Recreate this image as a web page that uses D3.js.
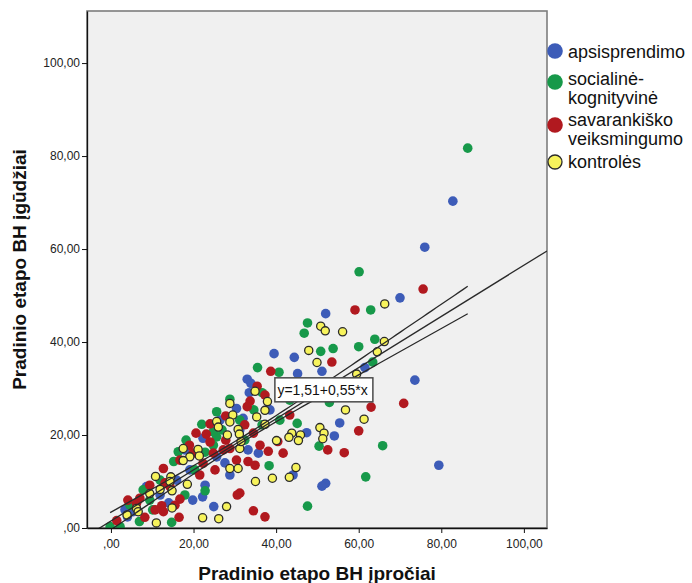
<!DOCTYPE html>
<html>
<head>
<meta charset="utf-8">
<script src="https://cdn.jsdelivr.net/npm/d3@7"></script>
<style>
  html, body { margin: 0; padding: 0; background: #fff; }
  svg { display: block; font-family: "Liberation Sans", Arial, sans-serif; }
</style>
</head>
<body>
<svg id="chart" width="692" height="583"></svg>
<script>
// Groups (legend order) and their wrapped legend labels
const groups = ["apsisprendimo", "socialinė-kognityvinė", "savarankiško veiksmingumo", "kontrolės"];
const legendLines = [["apsisprendimo"], ["socialinė-", "kognityvinė"], ["savarankiško", "veiksmingumo"], ["kontrolės"]];

// [įpročiai, įgūdžiai] per respondent
const apsisprendimo = [
  [82.8,70.3],[76.0,60.4],[70.0,49.5],[73.6,31.8],[79.4,13.5],[52.0,46.1],[39.5,37.5],[44.4,36.7],
  [45.2,33.2],[51.1,33.7],[61.5,34.5],[33.0,32.0],[33.9,31.1],[33.5,29.1],[32.0,23.6],[30.4,25.7],
  [55.4,22.6],[54.1,19.8],[47.4,20.5],[44.1,11.4],[52.0,9.6],[51.1,9.0],[22.3,19.3],[35.7,16.1],
  [8.6,8.9],[14.0,5.4],[19.8,6.0],[22.2,6.7],[24.9,4.6],[4.0,2.4],[5.4,3.5],[27.6,14.0],[33.2,16.8],
  [15.9,10.3],[19.1,12.5],[25.6,15.3],[26.4,23.2],[22.8,9.2],[11.9,7.1],[31.2,21.1],[38.5,25.4],
  [17.9,16.8],[28.8,11.4],[3.4,3.9],[40.9,29.7]
];
const socialine = [
  [86.4,81.7],[60.1,55.1],[62.9,46.9],[47.6,44.1],[46.8,41.9],[53.8,38.6],[50.8,38.0],[60.0,39.0],
  [63.9,40.6],[63.4,35.7],[35.5,34.5],[40.7,33.5],[36.6,29.1],[52.9,27.0],[34.6,25.4],[45.1,22.5],
  [50.4,17.6],[65.8,17.7],[38.3,13.4],[61.7,11.0],[47.6,4.7],[28.8,27.7],[25.6,25.0],[22.0,22.3],
  [25.6,19.6],[24.8,17.8],[16.3,16.4],[15.2,14.3],[7.8,8.2],[22.8,8.0],[14.7,1.2],[10.1,3.9],
  [6.9,1.4],[-0.2,0.3],[2.2,0.3],[24.8,20.7],[18.2,18.9],[22.8,16.3],[26.9,21.1],[31.2,23.2],
  [36.6,22.2],[20.3,12.5],[11.9,10.3],[4.6,4.9],[9.4,6.0],[32.4,18.9],[40.9,23.2],[43.3,27.5],[17.9,7.1]
];
const savarankisko = [
  [75.6,51.4],[70.9,26.8],[59.1,46.9],[53.5,35.7],[38.7,33.7],[35.4,30.5],[33.7,27.3],[33.0,26.1],
  [63.0,26.0],[60.0,20.9],[40.4,18.6],[52.5,16.8],[56.5,16.2],[38.1,16.5],[41.7,16.1],[33.2,14.3],
  [34.9,13.5],[31.2,7.5],[34.5,3.7],[37.3,2.4],[27.8,24.1],[24.0,22.4],[20.6,20.4],[23.1,20.2],
  [34.5,20.4],[28.8,17.1],[27.2,16.8],[24.8,16.1],[19.0,17.8],[19.9,16.1],[12.7,12.8],[30.4,14.6],
  [30.6,7.1],[16.7,6.2],[12.3,4.8],[12.7,3.5],[10.7,3.9],[8.2,2.3],[16.5,2.3],[6.2,5.3],[7.0,6.4],
  [1.4,1.6],[13.1,9.7],[14.3,8.9],[22.3,13.9],[24.0,18.5],[27.8,18.9],[16.7,14.6],[21.5,11.4],
  [9.4,9.2],[4.1,6.0],[32.4,22.2],[37.3,28.6],[43.3,24.3],[25.2,12.5],[15.5,4.9],[36.1,17.8]
];
const kontroles = [
  [66.3,48.2],[66.2,40.1],[64.5,37.9],[50.8,43.4],[51.9,42.4],[56.1,42.2],[47.9,38.2],[49.9,35.6],
  [59.5,33.1],[34.9,29.4],[37.9,27.2],[37.3,25.3],[35.3,23.9],[56.8,25.4],[61.3,23.4],[37.3,22.3],
  [50.6,21.6],[51.6,20.4],[51.3,19.2],[43.8,20.4],[45.9,20.0],[43.1,19.5],[45.4,18.8],[40.1,18.8],
  [31.2,17.1],[44.8,13.0],[39.1,10.7],[43.2,10.9],[35.0,10.0],[28.8,26.8],[29.5,24.3],[25.6,22.9],
  [26.0,21.7],[28.8,22.8],[28.2,20.0],[30.8,21.2],[31.1,20.2],[31.5,18.6],[17.5,17.1],[21.1,16.9],
  [21.4,15.5],[19.1,15.3],[17.5,14.5],[28.8,12.8],[30.8,12.8],[10.8,11.1],[14.5,11.0],[14.3,10.0],
  [18.5,9.4],[11.9,8.3],[14.8,8.0],[9.4,7.4],[28.0,4.6],[14.8,4.3],[22.2,2.2],[26.1,2.0],[11.0,1.1],
  [3.9,2.8],[6.2,4.2],[6.6,3.5]
];
const seriesData = [apsisprendimo, socialine, savarankisko, kontroles];
const seriesColors = ["#3d5cb8", "#17994a", "#b1191f", "#f7f35c"];

const xTicks = [0, 20, 40, 60, 80, 100];
const yTicks = [0, 20, 40, 60, 80, 100];

// Total linear fit and the half-width of its 95% mean confidence band
// at the smallest and largest observed įpročiai score
const fitIntercept = 1.51, fitSlope = 0.55;
const bandHalfWidth = [1.9, 2.95];

const svg = d3.select("#chart");
const plot = { left: 87, top: 11, right: 547, bottom: 528 };

const x = d3.scaleLinear().domain([-5.8, 105.6]).range([plot.left, plot.right]);
const y = d3.scaleLinear().domain([0, 111.2]).range([plot.bottom, plot.top]);

const fmt = v => v === 0 ? ",00" : v.toFixed(2).replace(".", ",");
const fmtCoef = v => v.toFixed(2).replace(".", ",");

// plot background + frame
svg.append("rect")
  .attr("x", plot.left).attr("y", plot.top)
  .attr("width", plot.right - plot.left).attr("height", plot.bottom - plot.top)
  .attr("fill", "#f0f0f0").attr("stroke", "#7d7d7d").attr("stroke-width", 1.6);

svg.append("clipPath").attr("id", "plotClip")
  .append("rect")
  .attr("x", plot.left).attr("y", plot.top)
  .attr("width", plot.right - plot.left).attr("height", plot.bottom - plot.top);

const inner = svg.append("g").attr("clip-path", "url(#plotClip)");

// points
seriesData.forEach((pts, i) => {
  const isLast = i === 3;
  inner.append("g").selectAll("circle").data(pts).join("circle")
    .attr("cx", d => x(d[0])).attr("cy", d => y(d[1]))
    .attr("r", isLast ? 4.1 : 4.8)
    .attr("fill", seriesColors[i])
    .attr("stroke", isLast ? "#2b2b2b" : "none")
    .attr("stroke-width", isLast ? 1.3 : 0);
});

// fit line and its confidence band (hyperbolic, narrowest at the mean įpročiai score)
const all = seriesData.flat();
const xm = d3.mean(all, d => d[0]);
const xMin = d3.min(all, d => d[0]), xMax = d3.max(all, d => d[0]);
const dMin = (xMin - xm) ** 2, dMax = (xMax - xm) ** 2;
const bandB = (bandHalfWidth[1] ** 2 - bandHalfWidth[0] ** 2) / (dMax - dMin);
const bandA = bandHalfWidth[0] ** 2 - bandB * dMin;
const fitAt = v => fitIntercept + fitSlope * v;
const halfWidth = v => Math.sqrt(bandA + bandB * (v - xm) ** 2);

const xs = d3.range(0, 81).map(k => xMin + (xMax - xMin) * k / 80);

const line = d3.line().x(d => x(d[0])).y(d => y(d[1]));
const lineStyle = sel => sel.attr("fill", "none").attr("stroke", "#2a2a2a").attr("stroke-width", 1.3);

inner.append("path")
  .attr("d", line(x.domain().map(v => [v, fitAt(v)])))
  .call(lineStyle);
inner.append("path")
  .attr("d", line(xs.map(v => [v, fitAt(v) + halfWidth(v)])))
  .call(lineStyle);
inner.append("path")
  .attr("d", line(xs.map(v => [v, fitAt(v) - halfWidth(v)])))
  .call(lineStyle);

// axes
const yAxis = svg.append("g")
  .attr("transform", `translate(${plot.left},0)`)
  .call(d3.axisLeft(y).tickValues(yTicks).tickFormat(fmt).tickSize(5).tickSizeOuter(0).tickPadding(2));
const xAxis = svg.append("g")
  .attr("transform", `translate(0,${plot.bottom})`)
  .call(d3.axisBottom(x).tickValues(xTicks).tickFormat(fmt).tickSize(5).tickSizeOuter(0).tickPadding(6));
[xAxis, yAxis].forEach(a => {
  a.select(".domain").attr("stroke", "#111").attr("stroke-width", 1.3);
  a.selectAll(".tick line").attr("stroke", "#111");
  a.selectAll(".tick text").attr("fill", "#222").style("font-size", "12px")
    .style("font-family", "\"Liberation Sans\", Arial, sans-serif");
});

// fit equation label
const lblX = x(39.7), lblY = y(32.3);
svg.append("rect")
  .attr("x", lblX).attr("y", lblY).attr("width", 98).attr("height", 24)
  .attr("fill", "#fff").attr("stroke", "#4a4a4a").attr("stroke-width", 1.5);
svg.append("text")
  .attr("x", lblX + 2.5).attr("y", lblY + 17.5)
  .attr("font-size", 14).attr("fill", "#111")
  .text(`y=${fmtCoef(fitIntercept)}+${fmtCoef(fitSlope)}*x`);

// axis titles
svg.append("text")
  .attr("x", (plot.left + plot.right) / 2).attr("y", 580)
  .attr("text-anchor", "middle").attr("font-weight", "bold").attr("font-size", 19).attr("fill", "#111")
  .text("Pradinio etapo BH įpročiai");
svg.append("text")
  .attr("transform", `translate(26,${(plot.top + plot.bottom) / 2}) rotate(-90)`)
  .attr("text-anchor", "middle").attr("font-weight", "bold").attr("font-size", 19).attr("fill", "#111")
  .text("Pradinio etapo BH įgūdžiai");

// legend
const legendCircleY = [51, 82, 125, 162];
const legendTextY = [[58], [85, 104], [126, 145], [168]];
const legend = svg.append("g");
groups.forEach((g, i) => {
  legend.append("circle")
    .attr("cx", 555).attr("cy", legendCircleY[i]).attr("r", i === 3 ? 7 : 7.8)
    .attr("fill", seriesColors[i])
    .attr("stroke", i === 3 ? "#2b2b2b" : "none").attr("stroke-width", i === 3 ? 1.3 : 0);
  legendLines[i].forEach((t, j) => {
    legend.append("text")
      .attr("x", 568).attr("y", legendTextY[i][j])
      .attr("font-size", 18).attr("fill", "#111")
      .text(t);
  });
});
</script>
</body>
</html>
